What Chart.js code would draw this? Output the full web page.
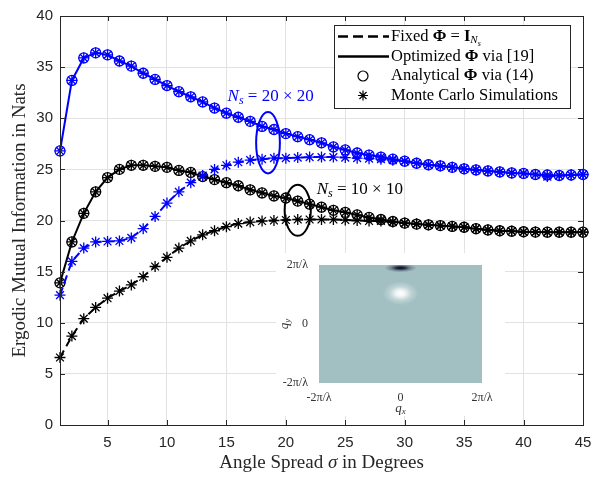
<!DOCTYPE html>
<html>
<head>
<meta charset="utf-8">
<script src="https://cdn.jsdelivr.net/npm/chart.js@4.4.0/dist/chart.umd.min.js"></script>
<style>
  html, body { margin: 0; padding: 0; background: #fff; }
  #wrap { position: relative; width: 601px; height: 477px; }
  #main { position: absolute; left: 0; top: 0; }
  #inset { position: absolute; left: 276px; top: 253px; width: 229px; height: 163px; background: #fff; }
</style>
</head>
<body>
<div id="wrap">
  <canvas id="main" width="601" height="477"></canvas>
  <div id="inset"><canvas id="insetCanvas" width="229" height="163"></canvas></div>
</div>
<script>
// angle spread in degrees
const angles = [1,2,3,4,5,6,7,8,9,10,11,12,13,14,15,16,17,18,19,20,21,22,23,24,25,26,27,28,29,30,31,32,33,34,35,36,37,38,39,40,41,42,43,44,45];

// Ns = 20x20
const opt20 = [26.8,33.7,35.9,36.4,36.2,35.6,35.1,34.4,33.8,33.2,32.6,32.1,31.6,31.0,30.5,30.1,29.7,29.2,28.9,28.5,28.2,27.9,27.6,27.2,26.9,26.6,26.4,26.2,26.0,25.8,25.6,25.45,25.35,25.2,25.05,24.95,24.85,24.75,24.65,24.6,24.5,24.45,24.4,24.45,24.5];
const fixed20 = [12.7,16.0,17.3,17.9,17.95,18.0,18.3,19.2,20.4,21.7,22.8,23.7,24.4,25.0,25.4,25.7,25.9,26.0,26.1,26.1,26.15,26.2,26.2,26.2,26.15,26.1,26.05,26.0,25.9,25.8,25.6,25.45,25.35,25.2,25.05,24.95,24.85,24.75,24.65,24.6,24.5,24.3,24.4,24.45,24.5];

// Ns = 10x10
const opt10 = [13.9,17.9,20.7,22.8,24.2,25.0,25.4,25.4,25.3,25.2,24.9,24.7,24.3,24.0,23.7,23.4,23.0,22.7,22.4,22.2,21.9,21.6,21.3,21.0,20.8,20.55,20.3,20.1,19.9,19.75,19.65,19.58,19.5,19.42,19.34,19.2,19.08,19.0,18.95,18.9,18.87,18.86,18.86,18.86,18.86];
const fixed10 = [6.6,8.7,10.4,11.5,12.4,13.1,13.7,14.5,15.5,16.4,17.3,18.0,18.6,19.0,19.4,19.7,19.85,19.95,20.0,20.05,20.1,20.1,20.1,20.1,20.05,20.0,19.95,19.95,19.85,19.72,19.65,19.58,19.5,19.42,19.34,19.2,19.08,19.0,18.95,18.9,18.87,18.86,18.86,18.86,18.86];

const xTicks = [5,10,15,20,25,30,35,40,45];
const yTicks = [0,5,10,15,20,25,30,35,40];

// ellipse annotations: centre x, centre y, half width, half height (data units)
const ringBlue = [18.5, 27.6, 1.0, 3.0];
const ringBlack = [21.0, 21.0, 1.1, 2.5];
const noteBlue = [15.1, 32.1];
const noteBlack = [22.6, 23.0];

// inset: spatial spectrum, q in units of 2*pi/lambda
const qTicks = [-1, 0, 1];
const qLabels = ['-2π/λ', '0', '2π/λ'];
const blobQx = [0, 0];
const blobQy = [0.95, 0.52];
const blobSx = [0.2, 0.22];
const blobSy = [0.075, 0.2];
const blobLevel = [-1, 1];

const BLUE = 'rgb(0,0,255)';
const BLACK = '#000';
const AXIS = '#262626';
const SERIF = '"Liberation Serif", "Times New Roman", serif';
const SANS = '"Liberation Sans", Arial, sans-serif';

function pts(arr) {
    return angles.map((a, i) => ({ x: a, y: arr[i] }));
}

function lineSet(data, color, dashed) {
    return {
        data: pts(data), borderColor: color, backgroundColor: color,
        borderWidth: 2, borderDash: dashed ? [8, 5] : [],
        pointRadius: 0, tension: 0, fill: false, clip: false
    };
}

function markSet(data, color, style) {
    return {
        data: pts(data), showLine: false, pointStyle: style, clip: false,
        pointRadius: style === 'star' ? 5.5 : 5, pointBorderWidth: 1.3,
        pointBorderColor: color, pointBackgroundColor: 'rgba(0,0,0,0)', borderColor: color
    };
}

function drawRich(ctx, parts, x, y, align) {
    let w = 0;
    parts.forEach(p => { ctx.font = p[1]; w += ctx.measureText(p[0]).width; });
    let cx = align === 'center' ? x - w / 2 : x;
    ctx.textAlign = 'left';
    ctx.textBaseline = 'middle';
    parts.forEach(p => {
        ctx.font = p[1];
        ctx.fillText(p[0], cx, y + (p[2] || 0));
        cx += ctx.measureText(p[0]).width;
    });
}

const frame = {
    id: 'frame',
    afterDraw(chart) {
        const ctx = chart.ctx;
        const a = chart.chartArea;
        const xs = chart.scales.x, ys = chart.scales.y;
        ctx.save();

        // ellipses + labels
        ctx.lineWidth = 2;
        [[ringBlue, BLUE], [ringBlack, BLACK]].forEach(r => {
            const e = r[0];
            const cx = xs.getPixelForValue(e[0]), cy = ys.getPixelForValue(e[1]);
            const rx = xs.getPixelForValue(e[0] + e[2]) - cx;
            const ry = cy - ys.getPixelForValue(e[1] + e[3]);
            ctx.strokeStyle = r[1];
            ctx.beginPath();
            ctx.ellipse(cx, cy, rx, ry, 0, 0, Math.PI * 2);
            ctx.stroke();
        });
        const big = '17px ' + SERIF, bigIt = 'italic 17px ' + SERIF, sub = 'italic 12px ' + SERIF;
        ctx.fillStyle = BLUE;
        drawRich(ctx, [['N', bigIt], ['s', sub, 4], [' = 20 × 20', big]],
            xs.getPixelForValue(noteBlue[0]), ys.getPixelForValue(noteBlue[1]));
        ctx.fillStyle = BLACK;
        drawRich(ctx, [['N', bigIt], ['s', sub, 4], [' = 10 × 10', big]],
            xs.getPixelForValue(noteBlack[0]), ys.getPixelForValue(noteBlack[1]));

        // box and inward ticks
        ctx.strokeStyle = AXIS;
        ctx.lineWidth = 1;
        ctx.setLineDash([]);
        ctx.strokeRect(a.left + 0.5, a.top + 0.5, a.right - a.left, a.bottom - a.top);
        ctx.beginPath();
        xTicks.forEach(v => {
            const p = Math.round(xs.getPixelForValue(v)) + 0.5;
            ctx.moveTo(p, a.bottom); ctx.lineTo(p, a.bottom - 5);
            ctx.moveTo(p, a.top); ctx.lineTo(p, a.top + 5);
        });
        yTicks.forEach(v => {
            const p = Math.round(ys.getPixelForValue(v)) + 0.5;
            ctx.moveTo(a.left, p); ctx.lineTo(a.left + 5, p);
            ctx.moveTo(a.right, p); ctx.lineTo(a.right - 5, p);
        });
        ctx.stroke();

        // axis titles
        ctx.fillStyle = AXIS;
        const tf = '19px ' + SERIF;
        drawRich(ctx, [['Angle Spread ', tf], ['σ', 'italic ' + tf], [' in Degrees', tf]],
            (a.left + a.right) / 2, 463, 'center');
        ctx.save();
        ctx.translate(20, (a.top + a.bottom) / 2);
        ctx.rotate(-Math.PI / 2);
        drawRich(ctx, [['Ergodic Mutual Information in Nats', tf]], 0, 0, 'center');
        ctx.restore();

        // legend
        const lx = 334, ly = 25, lw = 236, lh = 83;
        ctx.fillStyle = '#fff';
        ctx.fillRect(lx, ly, lw, lh);
        ctx.strokeStyle = AXIS;
        ctx.strokeRect(lx + 0.5, ly + 0.5, lw, lh);
        const lf = '16.5px ' + SERIF, lb = 'bold 16.5px ' + SERIF;
        const rows = [36.5, 56.5, 76, 95.5];
        ctx.strokeStyle = BLACK;
        ctx.lineWidth = 2.5;
        ctx.setLineDash([10, 5]);
        ctx.beginPath(); ctx.moveTo(338, rows[0]); ctx.lineTo(389, rows[0]); ctx.stroke();
        ctx.setLineDash([]);
        ctx.beginPath(); ctx.moveTo(338, rows[1]); ctx.lineTo(389, rows[1]); ctx.stroke();
        ctx.lineWidth = 1.2;
        ctx.beginPath(); ctx.arc(363, rows[2], 5, 0, Math.PI * 2); ctx.stroke();
        ctx.beginPath();
        for (let k = 0; k < 4; k++) {
            const t = k * Math.PI / 4;
            ctx.moveTo(363 - 5 * Math.cos(t), rows[3] - 5 * Math.sin(t));
            ctx.lineTo(363 + 5 * Math.cos(t), rows[3] + 5 * Math.sin(t));
        }
        ctx.stroke();
        ctx.fillStyle = BLACK;
        drawRich(ctx, [['Fixed ', lf], ['Φ', lb], [' = ', lf], ['I', lb], ['N', 'italic 11px ' + SERIF, 4], ['s', 'italic 8px ' + SERIF, 7]], 391, rows[0]);
        drawRich(ctx, [['Optimized ', lf], ['Φ', lb], [' via [19]', lf]], 391, rows[1]);
        drawRich(ctx, [['Analytical ', lf], ['Φ', lb], [' via (14)', lf]], 391, rows[2]);
        drawRich(ctx, [['Monte Carlo Simulations', lf]], 391, rows[3]);
        ctx.restore();
    }
};

new Chart(document.getElementById('main'), {
    type: 'line',
    data: {
        datasets: [
            markSet(opt20, BLUE, 'star'),
            markSet(opt20, BLUE, 'circle'),
            lineSet(opt20, BLUE, false),
            markSet(fixed20, BLUE, 'star'),
            lineSet(fixed20, BLUE, true),
            markSet(opt10, BLACK, 'star'),
            markSet(opt10, BLACK, 'circle'),
            lineSet(opt10, BLACK, false),
            markSet(fixed10, BLACK, 'star'),
            lineSet(fixed10, BLACK, true)
        ]
    },
    options: {
        responsive: false,
        animation: false,
        layout: { padding: { top: 11, right: 18, left: 0, bottom: 0 } },
        plugins: { legend: { display: false }, tooltip: { enabled: false } },
        scales: {
            x: {
                type: 'linear', min: 1, max: 45,
                afterBuildTicks: s => { s.ticks = xTicks.map(v => ({ value: v })); },
                afterFit: s => { s.height = 52; },
                ticks: { font: { family: SANS, size: 15 }, color: AXIS, padding: 9, maxRotation: 0, autoSkip: false },
                grid: { color: '#e2e2e2', drawTicks: false },
                border: { display: false }
            },
            y: {
                min: 0, max: 40,
                afterBuildTicks: s => { s.ticks = yTicks.map(v => ({ value: v })); },
                afterFit: s => { s.width = 60; },
                ticks: { font: { family: SANS, size: 15 }, color: AXIS, padding: 7 },
                grid: { color: '#e2e2e2', drawTicks: false },
                border: { display: false }
            }
        }
    },
    plugins: [frame]
});

const heat = {
    id: 'heat',
    beforeDatasetsDraw(chart) {
        const ctx = chart.ctx;
        const a = chart.chartArea;
        const xs = chart.scales.x, ys = chart.scales.y;
        ctx.save();
        ctx.beginPath();
        ctx.rect(a.left, a.top, a.right - a.left, a.bottom - a.top);
        ctx.clip();
        ctx.fillStyle = 'rgb(162,192,194)';
        ctx.fillRect(a.left, a.top, a.right - a.left, a.bottom - a.top);
        blobQx.forEach((qx, i) => {
            const cx = xs.getPixelForValue(qx), cy = ys.getPixelForValue(blobQy[i]);
            const rx = xs.getPixelForValue(qx + blobSx[i]) - cx;
            const ry = cy - ys.getPixelForValue(blobQy[i] + blobSy[i]);
            const c = blobLevel[i] > 0 ? '255,255,255' : '12,12,40';
            ctx.save();
            ctx.translate(cx, cy);
            ctx.scale(rx, ry);
            const g = ctx.createRadialGradient(0, 0, 0, 0, 0, 1);
            g.addColorStop(0, 'rgba(' + c + ',1)');
            g.addColorStop(0.25, 'rgba(' + c + ',0.85)');
            g.addColorStop(0.6, 'rgba(' + c + ',0.3)');
            g.addColorStop(1, 'rgba(' + c + ',0)');
            ctx.fillStyle = g;
            ctx.beginPath();
            ctx.arc(0, 0, 1, 0, Math.PI * 2);
            ctx.fill();
            ctx.restore();
        });
        ctx.restore();
    },
    afterDraw(chart) {
        const ctx = chart.ctx;
        const a = chart.chartArea;
        ctx.save();
        ctx.fillStyle = '#333';
        drawRich(ctx, [['q', 'italic 13px ' + SERIF], ['x', 'italic 9px ' + SERIF, 3]], (a.left + a.right) / 2, 156, 'center');
        ctx.translate(9, (a.top + a.bottom) / 2);
        ctx.rotate(-Math.PI / 2);
        drawRich(ctx, [['q', 'italic 13px ' + SERIF], ['y', 'italic 9px ' + SERIF, 3]], 0, 0, 'center');
        ctx.restore();
    }
};

const qTickOpts = {
    callback: v => qLabels[qTicks.indexOf(v)],
    font: { family: SERIF, size: 12 }, color: '#333', maxRotation: 0, autoSkip: false
};

new Chart(document.getElementById('insetCanvas'), {
    type: 'scatter',
    data: { datasets: [{ data: [] }] },
    options: {
        responsive: false,
        animation: false,
        layout: { padding: { top: 12, right: 23, left: 0, bottom: 0 } },
        plugins: { legend: { display: false }, tooltip: { enabled: false } },
        scales: {
            x: {
                min: -1, max: 1,
                afterBuildTicks: s => { s.ticks = qTicks.map(v => ({ value: v })); },
                afterFit: s => { s.height = 33; },
                ticks: Object.assign({ padding: 0 }, qTickOpts),
                grid: { display: false }, border: { display: false }
            },
            y: {
                min: -1, max: 1,
                afterBuildTicks: s => { s.ticks = qTicks.map(v => ({ value: v })); },
                afterFit: s => { s.width = 43; },
                ticks: Object.assign({ padding: 3 }, qTickOpts),
                grid: { display: false }, border: { display: false }
            }
        }
    },
    plugins: [heat]
});
</script>
</body>
</html>
